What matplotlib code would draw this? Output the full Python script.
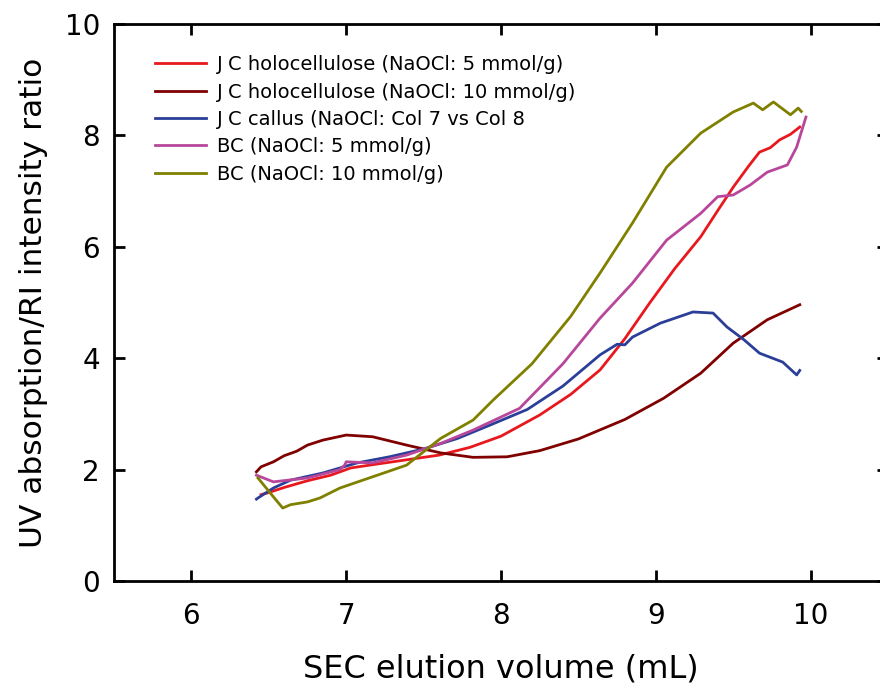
import matplotlib
matplotlib.use("Agg")
import matplotlib.pyplot as plt

# JC holocellulose (NaOCl: 5 mmol/g)
x_red = [6.45, 6.49, 6.6, 6.75, 6.9, 7.03, 7.2, 7.4, 7.6, 7.8, 8.0, 8.25, 8.45, 8.64, 8.8, 8.96, 9.12, 9.29, 9.4, 9.5, 9.6, 9.67, 9.74, 9.8, 9.87, 9.93]
y_red = [1.55, 1.58, 1.68, 1.8, 1.9, 2.03, 2.1, 2.18, 2.26, 2.4, 2.6, 2.98, 3.35, 3.79, 4.35, 4.99, 5.6, 6.18, 6.65, 7.07, 7.45, 7.70, 7.78, 7.92, 8.02, 8.15]

# JC holocellulose (NaOCl: 10 mmol/g)
x_dred = [6.42, 6.45, 6.53, 6.6, 6.68, 6.75, 6.85, 7.0, 7.17, 7.39, 7.61, 7.82, 8.04, 8.25, 8.5, 8.8, 9.05, 9.29, 9.5, 9.72, 9.93]
y_dred = [1.96, 2.05, 2.14, 2.25, 2.33, 2.44, 2.53, 2.62, 2.59, 2.44, 2.30, 2.22, 2.23, 2.34, 2.55, 2.9, 3.28, 3.73, 4.27, 4.69, 4.96]

# JC callus (NaOCl: Col 7 vs Col 8)
x_blue = [6.42, 6.43, 6.53, 6.64, 6.85, 7.07, 7.28, 7.5, 7.72, 7.93, 8.17, 8.4, 8.64, 8.75, 8.8, 8.85, 9.03, 9.24, 9.37, 9.46, 9.57, 9.67, 9.82, 9.91, 9.93]
y_blue = [1.47, 1.49, 1.67, 1.81, 1.94, 2.12, 2.23, 2.37, 2.56, 2.80, 3.08, 3.5, 4.06, 4.25, 4.24, 4.38, 4.63, 4.83, 4.81, 4.56, 4.33, 4.09, 3.93, 3.70, 3.78]

# BC (NaOCl: 5 mmol/g)
x_pink = [6.42, 6.53, 6.75, 6.96, 6.99, 7.0, 7.17, 7.39, 7.61, 7.82, 8.12, 8.4, 8.64, 8.85, 9.07, 9.29, 9.40, 9.5, 9.61, 9.72, 9.85, 9.91, 9.95, 9.97]
y_pink = [1.90, 1.78, 1.85, 2.0, 2.08, 2.14, 2.12, 2.26, 2.47, 2.71, 3.1, 3.9, 4.72, 5.35, 6.12, 6.60, 6.90, 6.93, 7.11, 7.34, 7.47, 7.79, 8.15, 8.33]

# BC (NaOCl: 10 mmol/g)
x_olive = [6.43, 6.53, 6.59, 6.64, 6.75, 6.83, 6.96, 7.17, 7.39, 7.61, 7.82, 7.95, 8.2, 8.45, 8.64, 8.85, 9.07, 9.29, 9.5, 9.63, 9.69, 9.76, 9.87, 9.92, 9.94]
y_olive = [1.85, 1.51, 1.31, 1.37, 1.42, 1.49, 1.67, 1.87, 2.08, 2.56, 2.89, 3.25, 3.9, 4.75, 5.53, 6.43, 7.43, 8.04, 8.42, 8.58, 8.46, 8.60, 8.37, 8.49, 8.43]

labels = ["J C holocellulose (NaOCl: 5 mmol/g)",
          "J C holocellulose (NaOCl: 10 mmol/g)",
          "J C callus (NaOCl: Col 7 vs Col 8",
          "BC (NaOCl: 5 mmol/g)",
          "BC (NaOCl: 10 mmol/g)"]
colors = ["#e8191e", "#800000", "#2b3f99", "#b8479b", "#808000"]

fig = plt.figure(figsize=(8.8, 6.85), dpi=100)
ax = fig.add_axes([114/880, 1 - 581/685, (888 - 114)/880, (581 - 24)/685])

series = [(x_red, y_red), (x_dred, y_dred), (x_blue, y_blue), (x_pink, y_pink), (x_olive, y_olive)]
for (xs, ys), lab, c in zip(series, labels, colors):
    ax.plot(xs, ys, color=c, lw=2.0, label=lab)

ax.set_xlim(5.5, 10.5)
ax.set_ylim(0, 10)
ax.set_xticks([6, 7, 8, 9, 10])
ax.set_yticks([0, 2, 4, 6, 8, 10])
for s in ax.spines.values():
    s.set_linewidth(2)
ax.tick_params(direction="in", length=8, width=2, top=True, right=True, labelsize=20)
ax.tick_params(axis="x", pad=15)
ax.tick_params(axis="y", pad=10)
ax.set_xlabel("SEC elution volume (mL)", fontsize=23, labelpad=17)
ax.set_ylabel("UV absorption/RI intensity ratio", fontsize=22.5, labelpad=12)

leg = ax.legend(loc="upper left", bbox_to_anchor=(0.053, 0.944), frameon=False, fontsize=14,
                handlelength=2.6, handletextpad=0.6, labelspacing=0.43, borderaxespad=0,
                borderpad=0)

fig.savefig("out.png", dpi=100)
